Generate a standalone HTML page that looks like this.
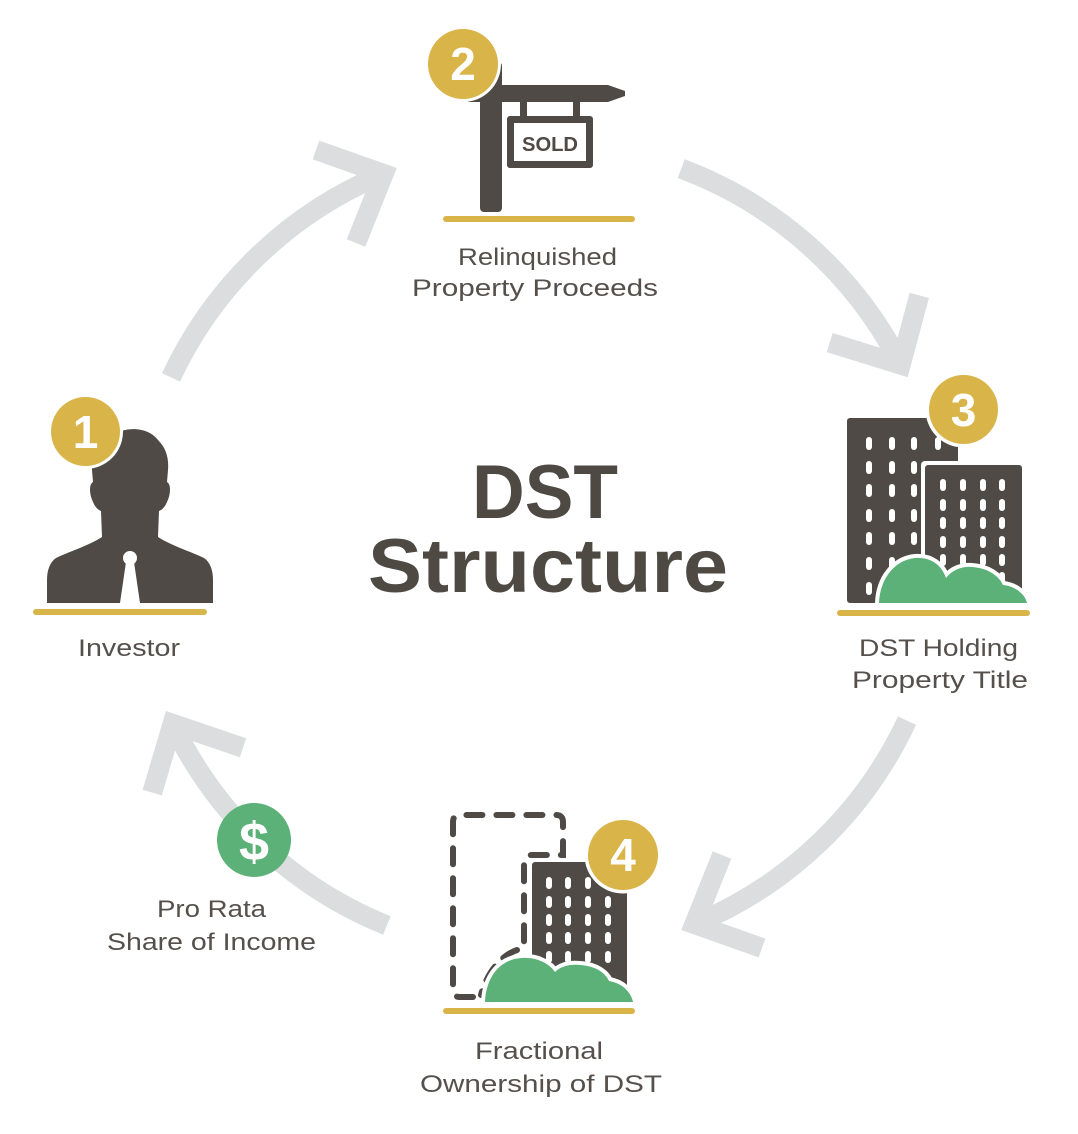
<!DOCTYPE html>
<html>
<head>
<meta charset="utf-8">
<style>
  html, body { margin: 0; padding: 0; background: #ffffff; }
  svg { display: block; }
  .lbl { font-family: "Liberation Sans", sans-serif; font-size: 24px; fill: #55504b; }
  .ttl { font-family: "Liberation Sans", sans-serif; font-size: 76px; font-weight: bold; fill: #4e4943; }
  .num { font-family: "Liberation Sans", sans-serif; font-size: 46px; font-weight: bold; fill: #ffffff; }
</style>
</head>
<body>
<svg width="1078" height="1134" viewBox="0 0 1078 1134" xmlns="http://www.w3.org/2000/svg">
  <defs>
    <g id="arr" fill="none" stroke="#dcddde" stroke-width="20">
      <path d="M171,377.4 A406,406 0 0 1 383.6,173.9"/>
      <path d="M316,150 L383.6,173.9 L356,243" stroke-linejoin="miter" stroke-miterlimit="10"/>
    </g>
  </defs>

  <!-- Arrows -->
  <use href="#arr"/>
  <use href="#arr" transform="rotate(85.5 539 549)"/>
  <use href="#arr" transform="rotate(180 539 549)"/>
  <use href="#arr" transform="rotate(267 539 549)"/>

  <!-- Dollar circle -->
  <circle cx="254" cy="840" r="37" fill="#5cb178"/>
  <text x="254" y="860" text-anchor="middle" font-family="Liberation Sans, sans-serif" font-size="54" font-weight="bold" fill="#ffffff">$</text>

  <!-- Title -->
  <text class="ttl" x="472" y="518" textLength="146" lengthAdjust="spacingAndGlyphs">DST</text>
  <text class="ttl" x="368" y="592" textLength="360" lengthAdjust="spacingAndGlyphs">Structure</text>

  <!-- ========== 1 Investor ========== -->
  <path fill="#4f4a45" d="M117,433 C128,427 148,427 158,440 C166,448 169,458 168,470 L167,482 C171,484 171,494 167,502 C165,507 162,510 159,511 L158,537 C172,546 192,552 204,558 C210,562 213,570 213,580 L213,603 L47,603 L47,580 C47,570 50,562 56,558 C68,552 88,546 102,537 L101,511 C98,510 95,507 93,502 C89,494 89,484 93,482 L92,470 C91,455 100,440 117,433 Z"/>
  <circle cx="130" cy="558" r="7" fill="#ffffff"/>
  <polygon points="126,562 134,562 140,603 120,603" fill="#ffffff"/>
  <circle cx="85.5" cy="431.5" r="37.5" fill="#ffffff"/>
  <circle cx="85.5" cy="431.5" r="34.5" fill="#d9b448"/>
  <text class="num" x="85.5" y="448" text-anchor="middle">1</text>
  <rect x="33" y="609" width="174" height="6" rx="3" fill="#d9b448"/>
  <text class="lbl" x="78" y="656" textLength="102" lengthAdjust="spacingAndGlyphs">Investor</text>

  <!-- ========== 2 Sign ========== -->
  <rect x="480" y="62" width="22" height="150" rx="4" fill="#4f4a45"/>
  <polygon points="468,85 608,85 625,91 625,96 608,102 468,102" fill="#4f4a45"/>
  <rect x="520" y="100" width="7" height="18" fill="#4f4a45"/>
  <rect x="573" y="100" width="7" height="18" fill="#4f4a45"/>
  <rect x="507" y="116" width="86" height="52" rx="3" fill="#4f4a45"/>
  <rect x="514" y="123" width="72" height="38" fill="#ffffff"/>
  <text x="522" y="151" textLength="56" lengthAdjust="spacingAndGlyphs" font-family="Liberation Sans, sans-serif" font-size="20" font-weight="bold" fill="#4f4a45">SOLD</text>
  <circle cx="463" cy="64" r="38" fill="#ffffff"/>
  <circle cx="463" cy="64" r="35" fill="#d9b448"/>
  <text class="num" x="463" y="80" text-anchor="middle">2</text>
  <rect x="443" y="216" width="192" height="6" rx="3" fill="#d9b448"/>
  <text class="lbl" x="458" y="265" textLength="159" lengthAdjust="spacingAndGlyphs">Relinquished</text>
  <text class="lbl" x="412" y="296" textLength="246" lengthAdjust="spacingAndGlyphs">Property Proceeds</text>

  <!-- ========== 3 Buildings ========== -->
  <rect x="847" y="418" width="111" height="185" rx="3" fill="#4f4a45"/>
  <g fill="#ffffff">
    <rect x="866" y="437" width="6" height="13" rx="3"/><rect x="889" y="437" width="6" height="13" rx="3"/><rect x="911" y="437" width="6" height="13" rx="3"/><rect x="935" y="437" width="6" height="13" rx="3"/>
    <rect x="866" y="461" width="6" height="13" rx="3"/><rect x="889" y="461" width="6" height="13" rx="3"/><rect x="911" y="461" width="6" height="13" rx="3"/>
    <rect x="866" y="484" width="6" height="13" rx="3"/><rect x="889" y="484" width="6" height="13" rx="3"/><rect x="911" y="484" width="6" height="13" rx="3"/>
    <rect x="866" y="509" width="6" height="13" rx="3"/><rect x="889" y="509" width="6" height="13" rx="3"/><rect x="911" y="509" width="6" height="13" rx="3"/>
    <rect x="866" y="532" width="6" height="13" rx="3"/><rect x="889" y="532" width="6" height="13" rx="3"/><rect x="911" y="532" width="6" height="13" rx="3"/>
    <rect x="866" y="557" width="6" height="13" rx="3"/><rect x="889" y="557" width="6" height="13" rx="3"/><rect x="911" y="557" width="6" height="13" rx="3"/>
    <rect x="866" y="582" width="6" height="13" rx="3"/>
  </g>
  <rect x="921" y="461" width="105" height="146" rx="4" fill="#ffffff"/>
  <rect x="925" y="465" width="97" height="138" rx="3" fill="#4f4a45"/>
  <g fill="#ffffff">
    <rect x="940" y="479" width="6" height="12" rx="3"/><rect x="960" y="479" width="6" height="12" rx="3"/><rect x="980" y="479" width="6" height="12" rx="3"/><rect x="999" y="479" width="6" height="12" rx="3"/>
    <rect x="940" y="499" width="6" height="12" rx="3"/><rect x="960" y="499" width="6" height="12" rx="3"/><rect x="980" y="499" width="6" height="12" rx="3"/><rect x="999" y="499" width="6" height="12" rx="3"/>
    <rect x="940" y="517" width="6" height="12" rx="3"/><rect x="960" y="517" width="6" height="12" rx="3"/><rect x="980" y="517" width="6" height="12" rx="3"/><rect x="999" y="517" width="6" height="12" rx="3"/>
    <rect x="940" y="536" width="6" height="12" rx="3"/><rect x="960" y="536" width="6" height="12" rx="3"/><rect x="980" y="536" width="6" height="12" rx="3"/><rect x="999" y="536" width="6" height="12" rx="3"/>
    <rect x="940" y="554" width="6" height="12" rx="3"/><rect x="960" y="554" width="6" height="12" rx="3"/><rect x="980" y="554" width="6" height="12" rx="3"/><rect x="999" y="554" width="6" height="12" rx="3"/>
    <rect x="940" y="572" width="6" height="12" rx="3"/><rect x="960" y="572" width="6" height="12" rx="3"/><rect x="980" y="572" width="6" height="12" rx="3"/><rect x="999" y="572" width="6" height="12" rx="3"/>
  </g>
  <!-- bush 3 -->
  <path d="M879,603 C880,578 895,560 915,558 C932,557 942,566 946,578 C952,570 962,566 972,567 C988,568 999,576 1003,585 C1015,586 1025,594 1027,603 Z" fill="#ffffff" stroke="#ffffff" stroke-width="8" stroke-linejoin="round"/>
  <path d="M879,603 C880,578 895,560 915,558 C932,557 942,566 946,578 C952,570 962,566 972,567 C988,568 999,576 1003,585 C1015,586 1025,594 1027,603 Z" fill="#5cb178"/>
  <rect x="830" y="603.5" width="210" height="5" fill="#ffffff"/>
  <circle cx="963.5" cy="409.5" r="38" fill="#ffffff"/>
  <circle cx="963.5" cy="409.5" r="34.5" fill="#d9b448"/>
  <text class="num" x="963.5" y="426" text-anchor="middle">3</text>
  <rect x="837" y="610" width="193" height="6" rx="3" fill="#d9b448"/>
  <text class="lbl" x="859" y="656" textLength="159" lengthAdjust="spacingAndGlyphs">DST Holding</text>
  <text class="lbl" x="852" y="688" textLength="176" lengthAdjust="spacingAndGlyphs">Property Title</text>

  <!-- ========== 4 Fractional ========== -->
  <path fill="none" stroke="#4f4a45" stroke-width="6" stroke-linecap="round" stroke-dasharray="16 14"
        d="M473,997 L460,997 Q453,997 453,990 L453,822 Q453,815 460,815 L556,815 Q563,815 563,822 L563,855 L532,855 Q524,855 524,863 L524,945"/>
  <path fill="none" stroke="#4f4a45" stroke-width="6" stroke-linecap="round" stroke-dasharray="16 12"
        d="M517,950 C502,955 487,972 481,995"/>
  <rect x="528" y="858" width="103" height="146" rx="4" fill="#ffffff"/>
  <rect x="532" y="862" width="95" height="140" rx="3" fill="#4f4a45"/>
  <g fill="#ffffff">
    <rect x="546" y="877" width="6" height="12" rx="3"/><rect x="565" y="877" width="6" height="12" rx="3"/><rect x="585" y="877" width="6" height="12" rx="3"/><rect x="605" y="877" width="6" height="12" rx="3"/>
    <rect x="546" y="896" width="6" height="12" rx="3"/><rect x="565" y="896" width="6" height="12" rx="3"/><rect x="585" y="896" width="6" height="12" rx="3"/><rect x="605" y="896" width="6" height="12" rx="3"/>
    <rect x="546" y="914" width="6" height="12" rx="3"/><rect x="565" y="914" width="6" height="12" rx="3"/><rect x="585" y="914" width="6" height="12" rx="3"/><rect x="605" y="914" width="6" height="12" rx="3"/>
    <rect x="546" y="932" width="6" height="12" rx="3"/><rect x="565" y="932" width="6" height="12" rx="3"/><rect x="585" y="932" width="6" height="12" rx="3"/><rect x="605" y="932" width="6" height="12" rx="3"/>
    <rect x="546" y="951" width="6" height="12" rx="3"/><rect x="565" y="951" width="6" height="12" rx="3"/><rect x="585" y="951" width="6" height="12" rx="3"/><rect x="605" y="951" width="6" height="12" rx="3"/>
  </g>
  <!-- bush 4 -->
  <path d="M485,1002 C486,977 500,959 522,958 C540,957 551,966 555,972 C561,966 570,964 580,965 C597,966 606,974 609,981 C622,983 631,992 633,1002 Z" fill="#ffffff" stroke="#ffffff" stroke-width="8" stroke-linejoin="round"/>
  <path d="M485,1002 C486,977 500,959 522,958 C540,957 551,966 555,972 C561,966 570,964 580,965 C597,966 606,974 609,981 C622,983 631,992 633,1002 Z" fill="#5cb178"/>
  <rect x="440" y="1002.5" width="210" height="5" fill="#ffffff"/>
  <circle cx="623" cy="855" r="38.5" fill="#ffffff"/>
  <circle cx="623" cy="855" r="35" fill="#d9b448"/>
  <text class="num" x="623" y="871" text-anchor="middle">4</text>
  <rect x="443" y="1008" width="192" height="6" rx="3" fill="#d9b448"/>
  <text class="lbl" x="475" y="1059" textLength="128" lengthAdjust="spacingAndGlyphs">Fractional</text>
  <text class="lbl" x="420" y="1092" textLength="242" lengthAdjust="spacingAndGlyphs">Ownership of DST</text>

  <!-- Pro rata labels -->
  <text class="lbl" x="157" y="917" textLength="109" lengthAdjust="spacingAndGlyphs">Pro Rata</text>
  <text class="lbl" x="107" y="950" textLength="209" lengthAdjust="spacingAndGlyphs">Share of Income</text>
</svg>
</body>
</html>
